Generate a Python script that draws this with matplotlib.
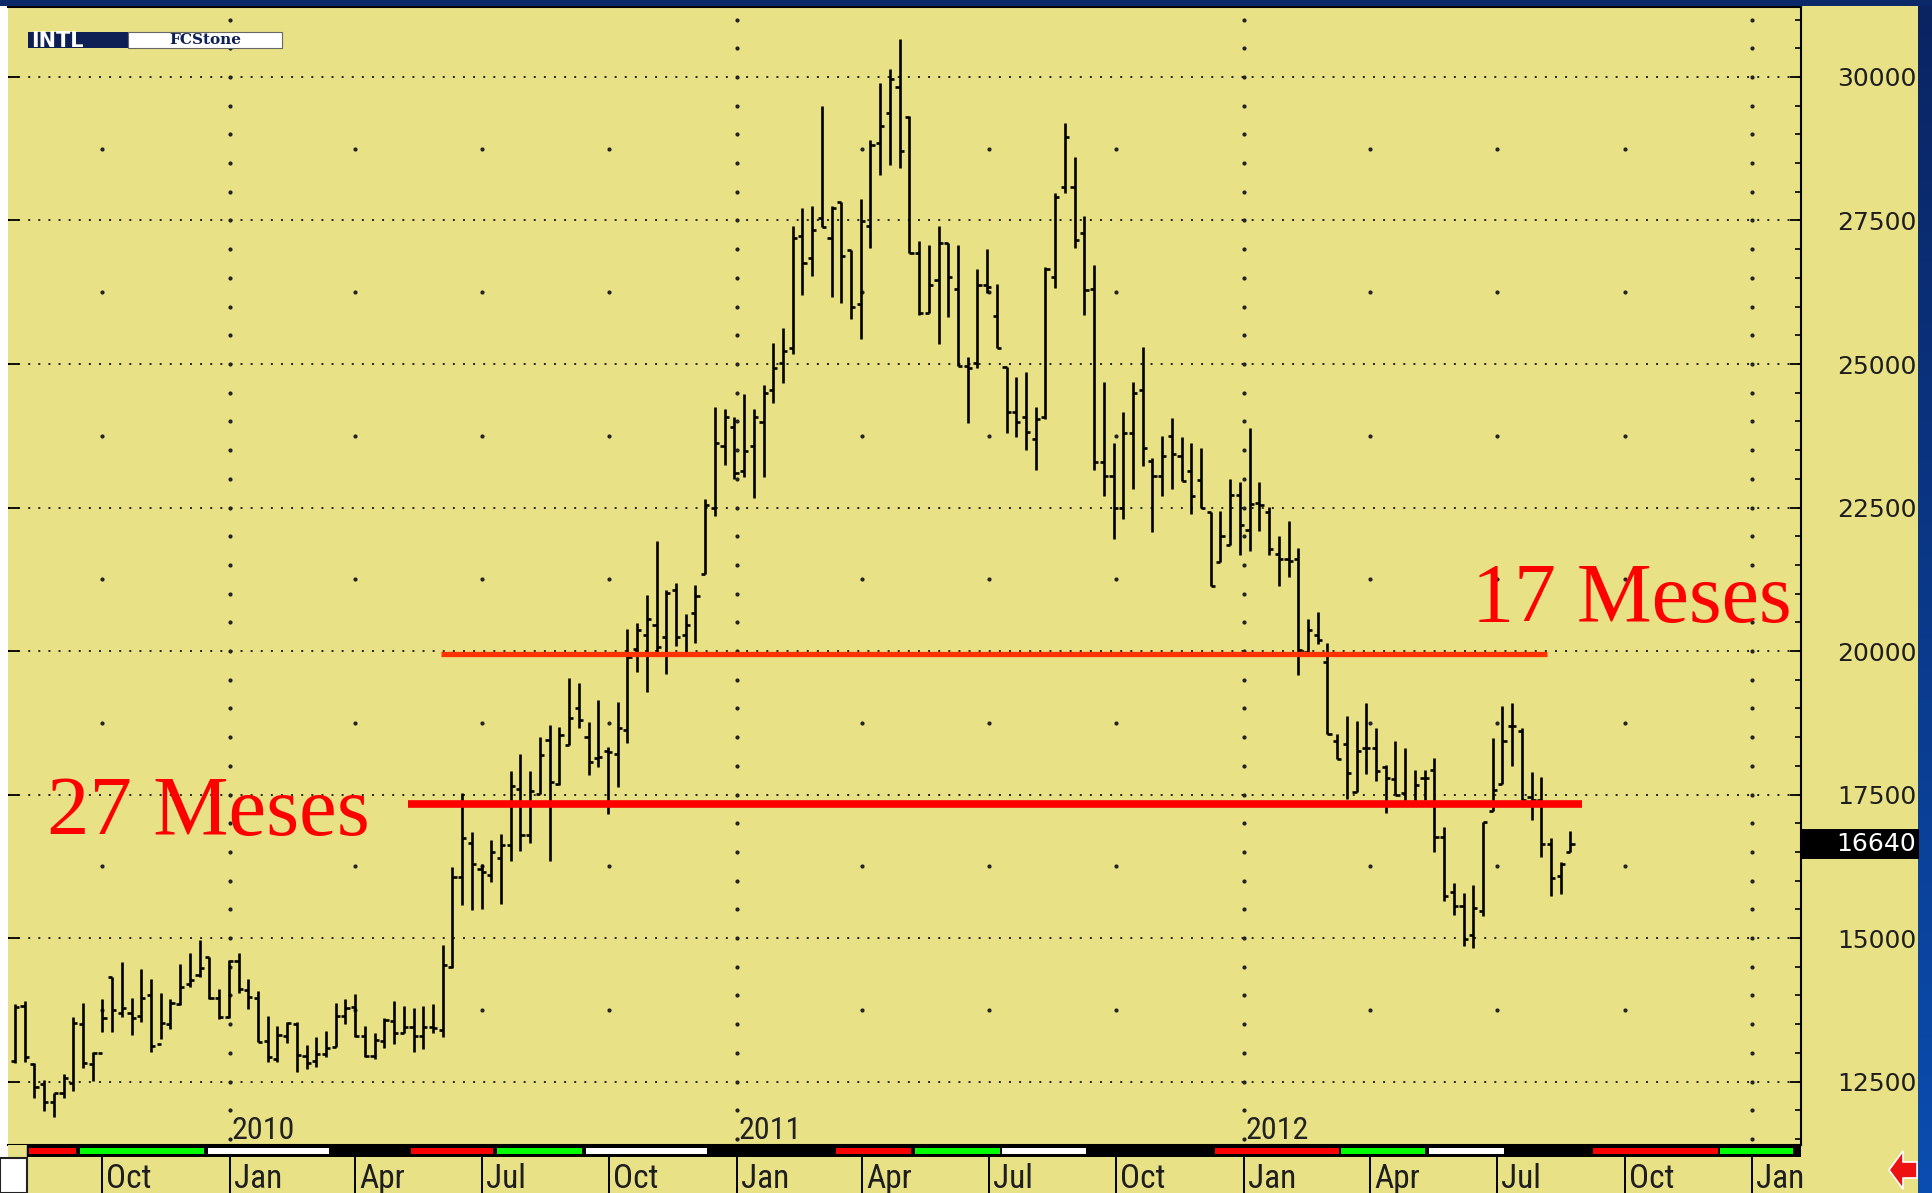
import datetime as dt
import numpy as np
import matplotlib
matplotlib.use('Agg')
import matplotlib.pyplot as plt
import matplotlib.dates as mdates
from matplotlib import font_manager, transforms
from matplotlib.patches import Rectangle, Polygon
from matplotlib.ticker import MultipleLocator

# weekly bars, first one on 2009-07-30
first_week = dt.date(2009, 7, 30)

highs = [13851, 13909, 12818, 12527, 12307, 12632, 13619, 13863, 13021, 13944,
         14327, 14589, 13950, 14455, 14281, 14037, 13933, 14548, 14746, 14966,
         14664, 14107, 14618, 14746, 14281, 14084, 13642, 13468, 13543, 13543,
         13137, 13282, 13387, 13863, 13933, 14026, 13468, 13340, 13602, 13909,
         13816, 13776, 13816, 13851, 14879, 16243, 17521, 16841, 16284, 16708,
         16807, 17916, 18206, 17916, 18508, 18711, 18682, 19524, 19449, 18769,
         19147, 18334, 19106, 20378, 20494, 20976, 21923, 21063, 21191, 20639,
         21150, 22642, 24257, 24210, 24082, 24478, 24210, 24634, 25360, 25621,
         27404, 27712, 27752, 29494, 27752, 27828, 26986, 27868, 28902, 29889,
         30133, 30656, 29320, 27148, 27073, 27404, 27114, 27073, 25116, 26649,
         26997, 26394, 24953, 24779, 24866, 24257, 26696, 27973, 29204, 28612,
         27578, 26724, 24692, 23620, 24169, 24684, 25288, 23359, 23751, 24062,
         23720, 23627, 23534, 22414, 22433, 22992, 22942, 23888, 22942, 22507,
         22009, 22259, 21794, 20551, 20672, 20147, 18548, 18862, 18789, 19091,
         18656, 18017, 18439, 18318, 17932, 17932, 18137, 16931, 15965, 15784,
         15923, 17027, 18487, 19043, 19091, 18656, 17884, 17812, 16738, 16327, 16858]

lows = [12818, 12847, 12208, 11993, 11877, 12220, 12341, 12730, 12516, 13369,
        13369, 13631, 13311, 13543, 13021, 13236, 13410, 13834, 14142, 14316,
        13933, 13584, 13602, 14049, 13758, 13195, 12847, 12847, 13166, 12673,
        12713, 12760, 12934, 13108, 13503, 13282, 12934, 12887, 13079, 13155,
        13340, 13021, 13062, 13340, 13282, 14473, 15576, 15490, 15500, 15982,
        15600, 16348, 16522, 16650, 17509, 16348, 17666, 18363, 18653, 17840,
        17986, 17161, 17637, 18392, 19629, 19292, 19989, 19600, 20088, 19989,
        20146, 21342, 22352, 23240, 22991, 23037, 22660, 23037, 24315, 24663,
        25174, 26202, 26533, 27392, 26161, 26068, 25778, 25430, 27015, 28292,
        28467, 28408, 26928, 25853, 25894, 25348, 25813, 24965, 23978, 24924,
        26231, 25273, 23804, 23722, 23500, 23150, 24036, 26318, 27985, 27015,
        25853, 23150, 22700, 21950, 22300, 22831, 23223, 22072, 22706, 22831,
        22955, 22395, 22495, 21126, 21543, 21854, 21667, 21748, 22084, 21667,
        21126, 21293, 19574, 19984, 20117, 18548, 18125, 17431, 17552, 17854,
        17733, 17172, 17492, 17371, 17341, 17401, 16496, 15639, 15410, 14867,
        14819, 15380, 17220, 17691, 17993, 17401, 17051, 16406, 15724, 15760, 16496]

opens = [12850, 13816, 12800, 12450, 12150, 12300, 12481, 13500, 12800, 13000,
         14316, 13700, 13700, 13650, 14000, 13150, 13500, 13850, 14200, 14350,
         14664, 13950, 13619, 14600, 14100, 13950, 13200, 12900, 13300, 13500,
         12950, 12850, 12980, 13100, 13650, 13800, 13300, 12950, 13200, 13550,
         13350, 13450, 13300, 13450, 13400, 14500, 16069, 16661, 16200, 16100,
         16400, 16621, 17591, 16795, 17509, 18450, 17684, 18363, 19002, 18497,
         18131, 18264, 18206, 18624, 20030, 20279, 20453, 20250, 21063, 20279,
         20668, 21342, 22498, 23572, 23908, 23142, 23572, 23984, 24547, 25012,
         25273, 27230, 26852, 27537, 27189, 27828, 26986, 26045, 27404, 28856,
         29367, 29831, 29297, 26928, 25894, 26463, 27102, 26301, 24965, 25012,
         26376, 25836, 24953, 24169, 24082, 23700, 24082, 26510, 28078, 28089,
         27276, 26300, 23300, 23050, 22500, 23800, 24548, 23316, 23055, 23751,
         23390, 23142, 22974, 22414, 21543, 21854, 22725, 22102, 22581, 22414,
         21686, 21595, 21595, 19984, 20286, 19815, 18439, 18379, 17552, 18306,
         18318, 17975, 17763, 17534, 17371, 17794, 17932, 16768, 15800, 15561,
         15048, 15470, 17220, 17691, 18699, 18608, 17450, 17413, 16647, 16087, 16496]

closes = [13800, 12922, 12411, 12150, 12307, 12556, 13526, 12818, 12992, 13602,
          13750, 13776, 13602, 13950, 13125, 13514, 13863, 14153, 14269, 14473,
          13951, 13631, 14600, 14107, 13979, 13195, 12934, 13311, 13514, 12963,
          12829, 12980, 13079, 13642, 13776, 13294, 12946, 13224, 13573, 13340,
          13456, 13294, 13456, 13427, 14531, 16069, 16749, 16284, 16156, 16505,
          16621, 17649, 16795, 17567, 18189, 17724, 18537, 18827, 18798, 18073,
          18160, 18247, 18665, 19890, 20366, 20552, 20076, 21017, 20250, 20453,
          20959, 22544, 23618, 24083, 23095, 23484, 24071, 24501, 24925, 25232,
          27189, 26765, 27334, 27392, 27712, 26881, 25999, 27497, 28815, 29146,
          29959, 28716, 26928, 25894, 26376, 27102, 26510, 24965, 24924, 26376,
          26335, 25273, 24169, 23995, 23821, 24050, 26649, 27915, 28949, 27160,
          26289, 23300, 23050, 22500, 23800, 24498, 23534, 23055, 23390, 23440,
          22955, 22706, 22495, 21126, 21997, 22725, 22196, 22557, 22538, 21773,
          21605, 21565, 20026, 20370, 20195, 18548, 18125, 17872, 18258, 18318,
          17914, 17794, 17492, 17371, 17673, 17794, 16768, 15724, 15561, 14988,
          15531, 17027, 17582, 18439, 18699, 17401, 17413, 16647, 16044, 16289, 16640]

last_price = 16640

# annotation lines: (start, end, level)
line_17 = (dt.date(2010, 6, 2), dt.date(2012, 8, 6), 19945)
line_27 = (dt.date(2010, 5, 9), dt.date(2012, 8, 31), 17330)

# contract strip under the chart
strip_starts = ['2009-08-09', '2009-09-15', '2009-12-16', '2010-05-11', '2010-07-12',
                '2010-09-14', '2011-03-13', '2011-05-09', '2011-07-11', '2011-12-11',
                '2012-03-11', '2012-05-13', '2012-09-08', '2012-12-09']
strip_ends = ['2009-09-12', '2009-12-13', '2010-03-13', '2010-07-09', '2010-09-11',
              '2010-12-10', '2011-05-06', '2011-07-09', '2011-09-09', '2012-03-09',
              '2012-05-10', '2012-07-06', '2012-12-07', '2013-01-30']
strip_colors = ['red', 'lime', 'white', 'red', 'lime', 'white', 'red', 'lime', 'white',
                'red', 'lime', 'white', 'red', 'lime']

quarters = [dt.date(y, m, 1) for y in (2009, 2010, 2011, 2012, 2013) for m in (1, 4, 7, 10)]
quarters = [q for q in quarters if dt.date(2009, 9, 1) < q < dt.date(2013, 2, 1)]

W, H = 1932, 1193
YELLOW = '#E8E186'


def pbox(x0, y0, x1, y1):
    # pixel box (top-left origin) -> figure fraction rect
    return [x0 / W, 1 - y1 / H, (x1 - x0) / W, (y1 - y0) / H]


names = {f.name for f in font_manager.fontManager.ttflist}
narrow = 'DejaVu Sans'
for n in ['Liberation Sans Narrow', 'Roboto Condensed', 'Open Sans Condensed']:
    if n in names:
        narrow = n
        break

fig = plt.figure(figsize=(W / 100, H / 100), dpi=100, facecolor='white')

# yellow panel, top navy band, right blue edge
fig.patches.append(Rectangle((8 / W, 0), 1910 / W, 1 - 6 / H, transform=fig.transFigure,
                             facecolor=YELLOW, edgecolor='none', zorder=-10))
fig.patches.append(Rectangle((0, 1 - 6 / H), 1, 6 / H, transform=fig.transFigure,
                             facecolor='#0B2868', edgecolor='none'))
edge = fig.add_axes(pbox(1918, 0, 1932, 1193))
edge.imshow(np.linspace(0, 1, 200).reshape(-1, 1), aspect='auto',
            cmap=matplotlib.colors.LinearSegmentedColormap.from_list('b', ['#0A2462', '#0A4DB0']))
edge.axis('off')

ax = fig.add_axes(pbox(8, 7, 1801, 1145))
ax.set_facecolor(YELLOW)

x = mdates.date2num([first_week + dt.timedelta(weeks=i) for i in range(len(highs))])
xmin = mdates.date2num(dt.date(2009, 7, 25))
xmax = mdates.date2num(dt.date(2013, 2, 5))
ax.set_xlim(xmin, xmax)
ax.set_ylim(11395, 31219)

# grid
for level in range(12500, 30001, 2500):
    ax.axhline(level, color='#222222', lw=1.4, ls=(0, (1, 4.2)), zorder=1)
for q in quarters:
    qx = mdates.date2num(q)
    if q.month == 1:
        ys = np.arange(11500, 31001, 500)
    else:
        ys = np.arange(13750, 31001, 2500)
    ax.plot([qx] * len(ys), ys, ls='none', marker='o', ms=2.0, color='#222222', zorder=1)

# OHLC bars
ax.vlines(x, lows, highs, color='black', lw=1.9, zorder=3)
ax.hlines(opens, x - 3, x, color='black', lw=1.9, zorder=3)
ax.hlines(closes, x, x + 3, color='black', lw=1.9, zorder=3)

# red levels and labels
ax.hlines(line_17[2], mdates.date2num(line_17[0]), mdates.date2num(line_17[1]),
          color='#FF3300', lw=3.8, zorder=4)
ax.hlines(line_27[2], mdates.date2num(line_27[0]), mdates.date2num(line_27[1]),
          color='#FF0000', lw=5.5, zorder=4)
ax.text(mdates.date2num(dt.date(2012, 6, 13)), 20506, '17 Meses', color='red',
        family='Liberation Serif', fontsize=60.5, va='baseline', ha='left', zorder=5)
ax.text(mdates.date2num(dt.date(2009, 8, 22)), 16796, '27 Meses', color='red',
        family='Liberation Serif', fontsize=61, va='baseline', ha='left', zorder=5)

# year labels inside the chart
for yr in (2010, 2011, 2012):
    ax.text(mdates.date2num(dt.date(yr, 1, 2)), 11640, str(yr), family=narrow,
            stretch='condensed', fontsize=23, color='#222222', va='center', ha='left')

# right price axis
ax.yaxis.tick_right()
ax.set_yticks(range(12500, 30001, 2500))
ax.yaxis.set_minor_locator(MultipleLocator(500))
ax.tick_params(axis='y', which='major', direction='in', length=8, width=1.3, pad=26,
               labelsize=18, labelcolor='#1E1E1E')
ax.tick_params(axis='y', which='major', left=True, labelleft=False)
ax.tick_params(axis='y', which='minor', direction='in', length=4.5, width=1.2)
ax.set_xticks([])
ax.spines['left'].set_visible(False)
for s in ['top', 'right', 'bottom']:
    ax.spines[s].set_linewidth(1.5)

# last price box
blend = transforms.blended_transform_factory(ax.transAxes, ax.transData)
ax.add_patch(Rectangle((1.0005, last_price - 262), 0.0655, 524, transform=blend,
                       facecolor='black', edgecolor='none', clip_on=False, zorder=6))
ax.text(1.0195, last_price, str(last_price), transform=blend, color='white', fontsize=18,
        va='center', ha='left', zorder=7)

# logo
fig.patches.append(Rectangle((28 / W, 1 - 48 / H), 100 / W, 16 / H, transform=fig.transFigure,
                             facecolor='#0E1F55', edgecolor='none'))
fig.patches.append(Rectangle((128 / W, 1 - 48 / H), 154 / W, 16 / H, transform=fig.transFigure,
                             facecolor='white', edgecolor='#666666', lw=0.8))
fig.text(31 / W, 1 - 41 / H, 'INTL', color='white', fontsize=15, weight='bold',
         va='center', ha='left')
fig.text(205 / W, 1 - 40 / H, 'FCStone', color='#0E1F55', fontsize=11, weight='bold',
         family='DejaVu Serif', va='center', ha='center')

# contract strip and month axis
strip = fig.add_axes(pbox(8, 1145, 1801, 1157))
strip.set_facecolor(YELLOW)
strip.set_xlim(xmin, xmax)
strip.set_ylim(0, 1)
strip.axvspan(mdates.date2num(dt.date(2009, 8, 8)), xmax, color='black')
for s0, s1, c in zip(strip_starts, strip_ends, strip_colors):
    a = mdates.date2num(dt.date.fromisoformat(s0))
    b = mdates.date2num(dt.date.fromisoformat(s1))
    strip.broken_barh([(a, b - a)], (0.22, 0.56), facecolors=c)
for s in strip.spines.values():
    s.set_visible(False)
strip.set_yticks([])
strip.set_xticks(mdates.date2num(quarters))
strip.set_xticklabels([q.strftime('%b') for q in quarters])
strip.tick_params(axis='x', direction='out', length=27, width=1.4, pad=-23,
                  labelsize=24, labelcolor='#1E1E1E')
shift = transforms.ScaledTranslation(4 / 100, 0, fig.dpi_scale_trans)
for lab in strip.get_xticklabels():
    lab.set_horizontalalignment('left')
    lab.set_family(narrow)
    lab.set_stretch('condensed')
    lab.set_transform(lab.get_transform() + shift)

# bottom-left box and red arrow
fig.patches.append(Rectangle((0, 0), 27 / W, 1 - 1158 / H, transform=fig.transFigure,
                             facecolor='white', edgecolor='#222222', lw=1.5))
arrow = [(1889, 1170), (1903, 1151), (1903, 1162), (1917, 1162), (1917, 1178),
         (1903, 1178), (1903, 1189)]
fig.patches.append(Polygon([(px / W, 1 - py / H) for px, py in arrow], closed=True,
                           transform=fig.transFigure, facecolor='#EE1111',
                           edgecolor='white', lw=1.2))

fig.savefig('out.png', dpi=100, facecolor=fig.get_facecolor())
